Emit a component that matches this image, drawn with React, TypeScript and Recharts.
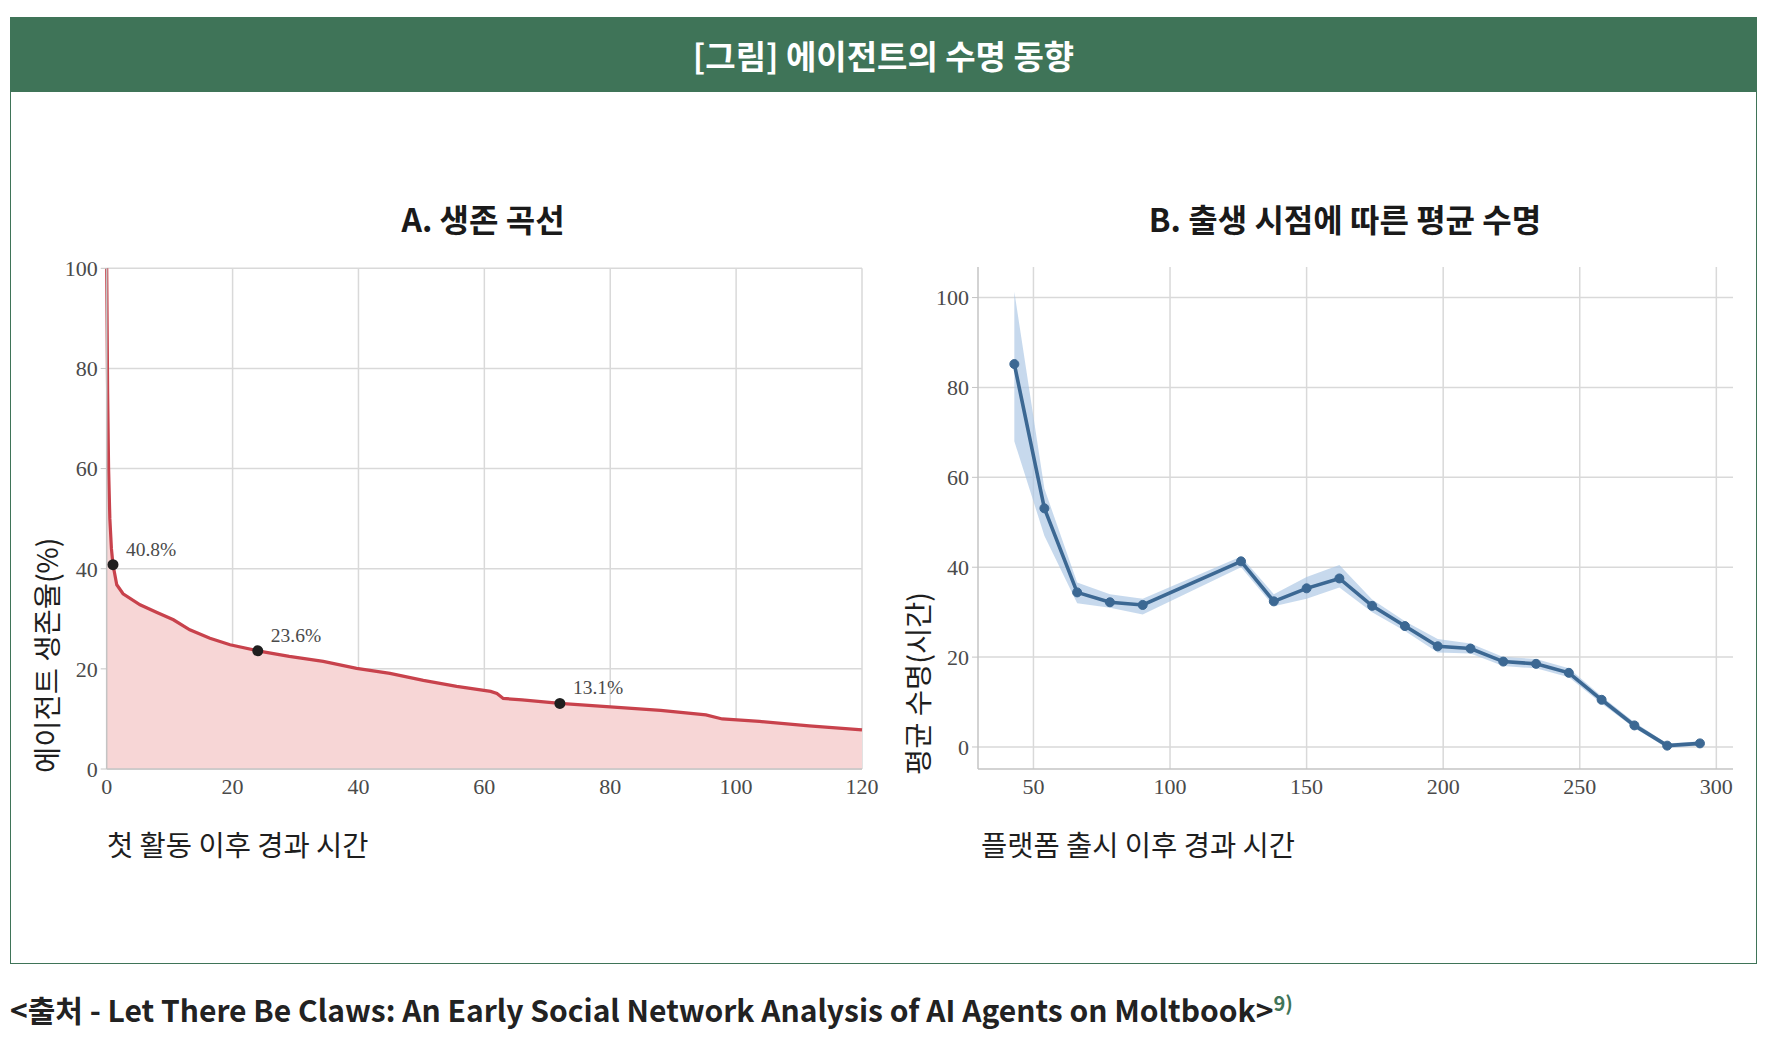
import React from 'react'
import { ComposedChart, Area, Line, Scatter, XAxis, YAxis, CartesianGrid } from 'recharts'

// A. survival curve (hours since first activity, % still active)
const survHours = [0, 0.15, 0.3, 0.5, 0.75, 1, 1.6, 2.6, 5.3, 7.9, 10.6, 13.2, 16.4, 19.6, 24, 29, 34.4, 39.7, 45, 50.3, 55.6, 61, 62, 63, 66, 72, 80, 88, 95.2, 97.8, 103.7, 111.6, 120]
const survPct = [100, 75, 60, 50, 44, 40.8, 36.8, 35, 32.8, 31.3, 29.8, 27.8, 26.1, 24.8, 23.6, 22.5, 21.5, 20.1, 19.1, 17.7, 16.5, 15.5, 15.1, 14.1, 13.8, 13.1, 12.4, 11.7, 10.8, 10.0, 9.5, 8.6, 7.8]
const markHours = [1, 24, 72]
const markPct = [40.8, 23.6, 13.1]
const markLabels = ['40.8%', '23.6%', '13.1%']
const ticksAX = [0, 20, 40, 60, 80, 100, 120]
const ticksAY = [0, 20, 40, 60, 80, 100]

// B. mean lifespan by birth time (hours since platform launch)
const birthHours = [43, 54, 66, 78, 90, 126, 138, 150, 162, 174, 186, 198, 210, 222, 234, 246, 258, 270, 282, 294]
const meanLife = [85.2, 53.1, 34.4, 32.2, 31.6, 41.3, 32.4, 35.3, 37.5, 31.4, 26.9, 22.4, 21.9, 19.0, 18.5, 16.5, 10.5, 4.8, 0.3, 0.8]
const lifeLow = [68, 47, 32, 31, 29.5, 40, 31.3, 33, 35.5, 30, 25.8, 21, 20.8, 18, 17.5, 15.5, 9.7, 4.2, -0.2, 0.3]
const lifeHigh = [101.3, 57.5, 36.6, 34, 33, 42.4, 34, 37.8, 40.5, 32.8, 28, 24, 23, 20, 19.6, 17.5, 11.3, 5.5, 0.8, 1.3]
const ticksBX = [50, 100, 150, 200, 250, 300]
const ticksBY = [0, 20, 40, 60, 80, 100]

const GREEN = '#3f7458'
const KR = '"Noto Sans CJK KR", "Noto Sans", sans-serif'
const SERIF = '"Liberation Serif", "DejaVu Serif", serif'

const survData = survHours.map((t, i) => ({ t, s: survPct[i] }))
const marks = markHours.map((t, i) => ({ t, s: markPct[i], label: markLabels[i] }))
const lifeData = birthHours.map((x, i) => ({ x, m: meanLife[i], band: [lifeLow[i], lifeHigh[i]] }))

const tickStyle = { fill: '#4a4a4a', fontSize: 22, fontFamily: SERIF }

function MarkDot(props: any) {
  const { cx, cy, payload } = props
  return (
    <g>
      <circle cx={cx} cy={cy} r={5.5} fill="#1f1f1f" />
      <text x={cx + 13} y={cy - 9} fill="#4a4a4a" fontSize={19.5} fontFamily={SERIF}>
        {payload.label}
      </text>
    </g>
  )
}

function RotLabel({ text, cx, bottom }: { text: string; cx: number; bottom: number }) {
  const h = 34
  return (
    <div
      style={{
        position: 'absolute', left: cx - h / 2, top: bottom, height: h, lineHeight: h + 'px',
        whiteSpace: 'nowrap', transform: 'rotate(-90deg)', transformOrigin: 'left top',
        fontFamily: KR, fontSize: 28.5, color: '#1e1e1e',
      }}
    >
      {text}
    </div>
  )
}

const abs = (l: number, t: number): React.CSSProperties => ({ position: 'absolute', left: l, top: t })

export default function App() {
  return (
    <div style={{ position: 'absolute', left: 0, top: 0, width: 1783, height: 1050, background: '#fff', overflow: 'hidden' }}>
      <div style={{ ...abs(10, 17), width: 1747, height: 947, boxSizing: 'border-box', border: `1.5px solid ${GREEN}` }} />
      <div
        style={{
          ...abs(10, 17), width: 1747, height: 75, background: GREEN, color: '#fff', display: 'flex',
          alignItems: 'center', justifyContent: 'center', fontFamily: KR, fontWeight: 700, fontSize: 33,
        }}
      >
        [그림] 에이전트의 수명 동향
      </div>

      <div style={{ ...abs(283, 195), width: 400, textAlign: 'center', fontFamily: KR, fontWeight: 700, fontSize: 32, color: '#1a1a1a' }}>
        A. 생존 곡선
      </div>
      <div style={{ ...abs(1045, 195), width: 600, textAlign: 'center', fontFamily: KR, fontWeight: 700, fontSize: 32, color: '#1a1a1a' }}>
        B. 출생 시점에 따른 평균 수명
      </div>

      <div style={abs(0, 230)}>
        <ComposedChart width={900} height={579} data={survData} margin={{ top: 38.3, right: 38, bottom: 0, left: 46.7 }}>
          <CartesianGrid stroke="#d9d9d9" strokeWidth={1.5} syncWithTicks />
          <XAxis
            dataKey="t" type="number" domain={[0, 120]} ticks={ticksAX} height={40}
            tick={tickStyle} tickLine={false} tickMargin={3} axisLine={{ stroke: '#c4c4c4', strokeWidth: 1.5 }}
          />
          <YAxis
            type="number" domain={[0, 100]} ticks={ticksAY} width={60}
            tick={tickStyle} tickSize={6} tickMargin={3} tickLine={{ stroke: '#c4c4c4' }} axisLine={{ stroke: '#c4c4c4', strokeWidth: 1.5 }}
          />
          <Area
            type="linear" dataKey="s" stroke="#c8424c" strokeWidth={3.2} fill="#f7d6d6" fillOpacity={1}
            isAnimationActive={false} dot={false} activeDot={false}
          />
          <Scatter data={marks} dataKey="s" shape={MarkDot} isAnimationActive={false} />
        </ComposedChart>
      </div>

      <div style={abs(900, 230)}>
        <ComposedChart width={860} height={579} data={lifeData} margin={{ top: 37, right: 27, bottom: 0, left: 18 }}>
          <CartesianGrid stroke="#d9d9d9" strokeWidth={1.5} syncWithTicks />
          <XAxis
            dataKey="x" type="number" domain={[29.7, 306.1]} ticks={ticksBX} height={40} allowDataOverflow
            tick={tickStyle} tickLine={false} tickMargin={3} axisLine={{ stroke: '#c4c4c4', strokeWidth: 1.5 }}
          />
          <YAxis
            type="number" domain={[-4.9, 106.8]} ticks={ticksBY} width={60} allowDataOverflow
            tick={tickStyle} tickSize={6} tickMargin={3} tickLine={{ stroke: '#c4c4c4' }} axisLine={{ stroke: '#c4c4c4', strokeWidth: 1.5 }}
          />
          <Area
            type="linear" dataKey="band" stroke="none" fill="#a9c5e3" fillOpacity={0.65}
            isAnimationActive={false} dot={false} activeDot={false}
          />
          <Line
            type="linear" dataKey="m" stroke="#3c6893" strokeWidth={3.6}
            dot={{ r: 4.5, fill: '#3c6893', stroke: '#3c6893', strokeWidth: 1 }} activeDot={false} isAnimationActive={false}
          />
        </ComposedChart>
      </div>

      <RotLabel text="에이전트 생존율(%)" cx={46} bottom={773} />
      <RotLabel text="평균 수명(시간)" cx={917} bottom={775} />

      <div style={{ ...abs(107, 823), fontFamily: KR, fontSize: 28.5, color: '#1e1e1e', whiteSpace: 'nowrap' }}>
        첫 활동 이후 경과 시간
      </div>
      <div style={{ ...abs(981, 823), fontFamily: KR, fontSize: 28.5, color: '#1e1e1e', whiteSpace: 'nowrap' }}>
        플랫폼 출시 이후 경과 시간
      </div>

      <div style={{ ...abs(10, 987), fontFamily: KR, fontWeight: 700, fontSize: 30, color: '#222', whiteSpace: 'nowrap' }}>
        {'<출처 - Let There Be Claws: An Early Social Network Analysis of AI Agents on Moltbook>'}
        <span style={{ color: GREEN, fontSize: 20, verticalAlign: 'super' }}>9)</span>
      </div>
    </div>
  )
}
